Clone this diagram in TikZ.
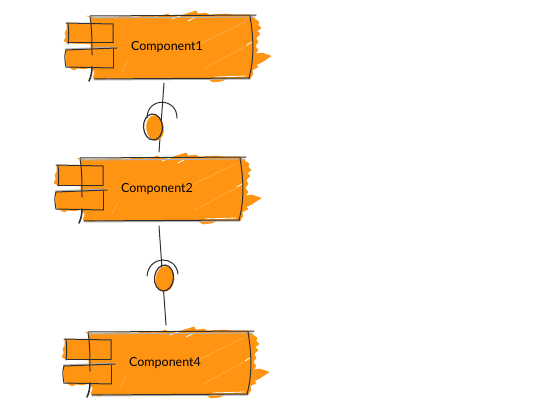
\documentclass[tikz,border=0pt]{standalone}
\usepackage{fontspec}
\setmainfont{Lato}
\usepackage{tikz}
\usetikzlibrary{positioning,shapes.geometric}

\definecolor{sketchorange}{HTML}{FF9412}
\definecolor{sketchink}{HTML}{303030}

\tikzset{
    inkline/.style={draw=sketchink, line width=1pt, line cap=round},
    inkthick/.style={draw=sketchink, line width=1.6pt, line cap=round},
    ghost/.style={draw=black!30, line width=1pt, line cap=round},
    scribble/.style={fill=sketchorange, draw=sketchorange, line width=0.6pt, line join=round},
    streak/.style={draw=white, line width=0.8pt, line cap=round},
    softstreak/.style={draw=white, opacity=0.18, line width=1pt, line cap=round},
    complabel/.style={text=black, font=\fontsize{12.5}{14}\selectfont, inner sep=1pt},
    lolly/.style={ellipse, draw=sketchink, line width=1.2pt, minimum width=19pt, minimum height=26pt, inner sep=0pt},
    wire/.style={draw=sketchink, line width=1pt, line cap=round}
}

% one sketched component, drawn in the frame of the first one
\newcommand{\sketchcomp}[3]{
    \begin{scope}[shift={(#2)}]
        \fill[scribble] (87,16) -- (96,18) -- (120,17) -- (140,17) -- (143,15) -- (146,17) -- (150,15) -- (156,17)
            -- (168,14) -- (170,16) -- (180,16) -- (186,14) -- (196,11) -- (198,14) -- (206,13) -- (209,15)
            -- (226,14) -- (234,15) -- (250,15) -- (255,19) -- (259,22) -- (258,25) -- (261,28) -- (257,31)
            -- (260,34) -- (256,38) -- (258,42) -- (255,46) -- (258,50) -- (255,54) -- (262,53)
            -- (271,56) -- (262,62) -- (256,65) -- (258,67) -- (252,70) -- (253,74) -- (250,78)
            -- (228,78) -- (222,81) -- (213,82) -- (208,79) -- (160,79) -- (150,78) -- (120,79) -- (108,78)
            -- (101,80) -- (93,78) -- (95,72) -- (91,67) -- (91,17) -- cycle;
        \fill[scribble] (67,23) -- (92,24) -- (112,25) -- (113,43) -- (92,44) -- (68,43) -- (64,41) -- (66,37) -- (65,33) -- (67,29) -- cycle;
        \fill[scribble] (66,50) -- (92,49) -- (113,49) -- (113,68) -- (92,67) -- (84,69) -- (78,68) -- (74,70) -- (67,66) -- (66,60) -- cycle;
        \draw[streak] (172,19) -- (180,16);
        \draw[streak] (188,21) -- (196,17);
        \draw[streak] (150,78) -- (204,78);
        \draw[streak] (215,77) -- (246,76);
        \draw[streak] (247,45) -- (252,42);
        \draw[softstreak] (200,44) -- (245,22);
        \draw[softstreak] (205,68) -- (246,46);
        \draw[softstreak] (122,72) -- (128,60);
        \draw[ghost] (92,18) -- (255,17);
        \draw[ghost] (94,80) -- (250,79);
        \draw[ghost] (65,49) -- (116,47);
        \draw[inkline] (90,16) -- (256,15);
        \draw[inkline] (94,79) -- (250,78);
        \draw[inkline] (250,16) .. controls (254,40) and (254,60) .. (249,78);
        \draw[inkline] (90,17) .. controls (92,28) and (92,42) .. (92,55);
        \draw[inkthick] (92,67) .. controls (92,72) and (91,77) .. (89,81);
        \draw[inkline] (66,23) -- (113,24) -- (113,43);
        \draw[inkline] (68,43) -- (113,43);
        \draw[inkline] (68,24) .. controls (69,30) and (69,38) .. (68,44);
        \draw[inkline] (66,50) -- (117,48);
        \draw[inkline] (113,49) -- (113,68);
        \draw[inkline] (66,67) -- (113,68);
        \draw[inkline] (66,50) .. controls (64,55) and (65,62) .. (66,67);
        \node[complabel] (#1) at (167,47) {#3};
    \end{scope}
}

\begin{document}
\begin{tikzpicture}[x=1pt, y=-1pt]
    \useasboundingbox (0,0) rectangle (551,412);

    \sketchcomp{comp1}{0,0}{Component1}
    \sketchcomp{comp2}{-10,142}{Component2}
    \sketchcomp{comp4}{-2,316}{Component4}

    \coordinate (out1) at (164,83);
    \coordinate (in2) at (159,152);
    \coordinate (out2) at (159,226);
    \coordinate (in4) at (166,325);

    \draw[wire] (out1) -- (in2);
    \draw[wire] (out2) -- (in4);

    % sockets
    \coordinate (sock1l) at (147,118);
    \coordinate (sock1r) at (177,118);
    \coordinate (sock2l) at (147,276);
    \coordinate (sock2r) at (178,274);
    \draw[inkline] (sock1l) .. controls (147,97) and (177,97) .. (sock1r);
    \draw[inkline] (sock2l) .. controls (149,255) and (176,255) .. (sock2r);

    % balls, the fill sits a little off the outline
    \fill[scribble, rotate around={6:(155,128)}] (155,128) ellipse (8.5 and 12.5);
    \fill[scribble, rotate around={-6:(165,279)}] (165,279) ellipse (9 and 12.5);
    \node[lolly, rotate=4] (ball1) at (153,127) {};
    \node[lolly, rotate=-6] (ball2) at (164,278) {};
\end{tikzpicture}
\end{document}
